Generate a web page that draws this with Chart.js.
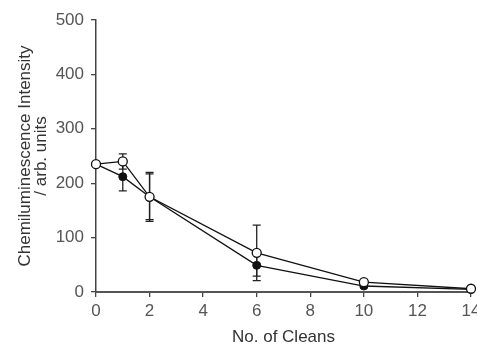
<!DOCTYPE html>
<html>
<head>
<meta charset="utf-8">
<script src="https://cdn.jsdelivr.net/npm/chart.js@4"></script>
<style>
  html, body { margin: 0; padding: 0; background: #fff; }
  #wrap { width: 477px; height: 346px; position: relative; }
</style>
</head>
<body>
<div id="wrap"><canvas id="c" width="477" height="346"></canvas></div>
<script>
const cleans = [0, 1, 2, 6, 10, 14];
const openValues = [235, 240, 175, 72, 18, 6];
const openErrors = [0, 14, 45, 51, 4, 2];
const filledValues = [235, 212, 175, 49, 11, 5];
const filledErrors = [0, 26, 42, 20, 3, 2];
const xTicks = [0, 2, 4, 6, 8, 10, 12, 14];
const yTicks = [0, 100, 200, 300, 400, 500];

const toPoints = (vals) => cleans.map((c, i) => ({ x: c, y: vals[i] }));

const errorBarPlugin = {
  id: 'errorBars',
  beforeDatasetsDraw(chart) {
    const ctx = chart.ctx;
    const xs = chart.scales.x, ys = chart.scales.y;
    const sets = [[openValues, openErrors], [filledValues, filledErrors]];
    ctx.save();
    ctx.strokeStyle = '#222';
    ctx.lineWidth = 1.3;
    sets.forEach(([vals, errs]) => {
      cleans.forEach((c, i) => {
        if (!errs[i]) return;
        const px = xs.getPixelForValue(c);
        const top = ys.getPixelForValue(vals[i] + errs[i]);
        const bot = ys.getPixelForValue(vals[i] - errs[i]);
        ctx.beginPath();
        ctx.moveTo(px, top); ctx.lineTo(px, bot);
        ctx.moveTo(px - 4, top); ctx.lineTo(px + 4, top);
        ctx.moveTo(px - 4, bot); ctx.lineTo(px + 4, bot);
        ctx.stroke();
      });
    });
    ctx.restore();
  }
};

const font = { family: 'Liberation Sans, Arial, sans-serif', size: 17 };
const titleFontX = { family: 'Liberation Sans, Arial, sans-serif', size: 17, lineHeight: 1.0 };
const titleFontY = { family: 'Liberation Sans, Arial, sans-serif', size: 17, lineHeight: 0.95 };

new Chart(document.getElementById('c'), {
  type: 'line',
  data: {
    datasets: [
      {
        data: toPoints(openValues),
        borderColor: '#111',
        borderWidth: 1.3,
        pointBackgroundColor: '#fff',
        pointBorderColor: '#111',
        pointBorderWidth: 1.3,
        pointRadius: 4.5,
        tension: 0,
        clip: false
      },
      {
        data: toPoints(filledValues),
        borderColor: '#111',
        borderWidth: 1.3,
        pointBackgroundColor: '#111',
        pointBorderColor: '#111',
        pointBorderWidth: 1,
        pointRadius: 4,
        tension: 0,
        clip: false
      }
    ]
  },
  options: {
    responsive: false,
    animation: false,
    layout: { padding: { top: 20, right: 6, left: 17, bottom: 0 } },
    plugins: { legend: { display: false }, tooltip: { enabled: false } },
    scales: {
      x: {
        type: 'linear',
        min: 0, max: 14,
        afterBuildTicks(s) { s.ticks = xTicks.map(v => ({ value: v })); },
        afterFit(s) { s.height = 54; s.paddingRight = 0; s.paddingLeft = 0; },
        grid: { drawOnChartArea: false, drawTicks: true, tickLength: 5, color: '#444', lineWidth: 1.3 },
        border: { display: true, color: '#555', width: 2 },
        ticks: { color: '#555', font, padding: 4, maxRotation: 0 },
        title: { display: true, text: 'No. of Cleans', color: '#333', font: titleFontX, padding: { top: 0, bottom: 0 } }
      },
      y: {
        min: 0, max: 500,
        afterBuildTicks(s) { s.ticks = yTicks.map(v => ({ value: v })); },
        afterFit(s) { s.width = 79; s.paddingTop = 0; s.paddingBottom = 0; },
        grid: { drawOnChartArea: false, drawTicks: true, tickLength: 5, color: '#444', lineWidth: 1.3 },
        border: { display: true, color: '#444', width: 1.5 },
        ticks: { color: '#555', font, padding: 7 },
        title: { display: true, text: ['Chemiluminescence Intensity', '/ arb. units'], color: '#333', font: titleFontY, padding: { top: 0, bottom: 0 } }
      }
    }
  },
  plugins: [errorBarPlugin]
});
</script>
</body>
</html>
